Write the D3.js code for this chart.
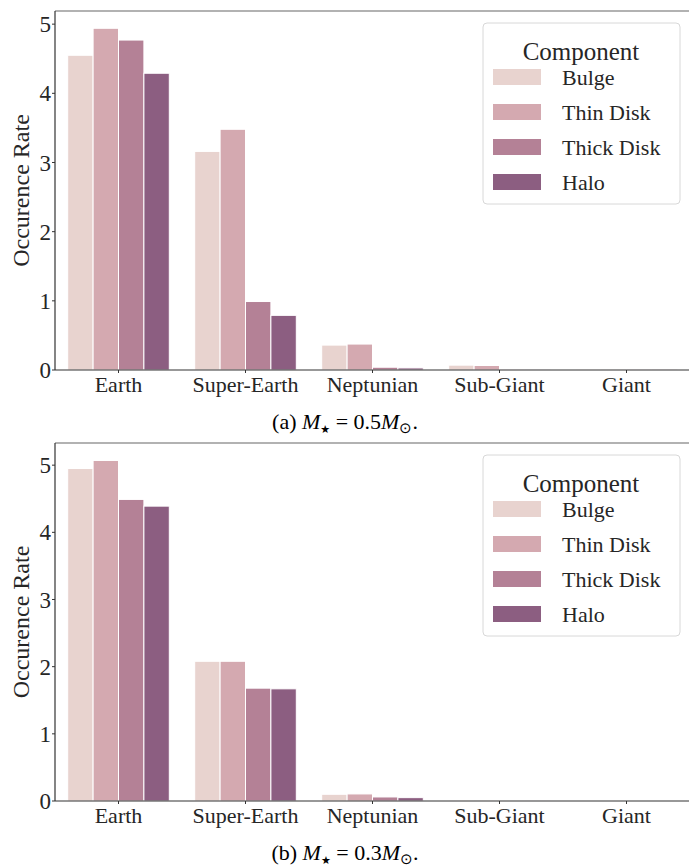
<!DOCTYPE html>
<html>
<head>
<meta charset="utf-8">
<script src="https://cdn.jsdelivr.net/npm/d3@7"></script>
</head>
<body style="margin:0; background:#fff">
<div id="chart"></div>
<script>
const categories = ["Earth", "Super-Earth", "Neptunian", "Sub-Giant", "Giant"];
const components = ["Bulge", "Thin Disk", "Thick Disk", "Halo"];
const colors = ["#e8d3cf", "#d4a9b0", "#b48196", "#8c5e81"];
const yTicks = [0, 1, 2, 3, 4, 5];

// occurrence rate per component, one value per category
const rateA = {
  "Bulge":      [4.55, 3.16, 0.36, 0.07, 0.004],
  "Thin Disk":  [4.94, 3.48, 0.375, 0.065, 0.004],
  "Thick Disk": [4.77, 0.99, 0.04, 0.004, 0.002],
  "Halo":       [4.29, 0.79, 0.03, 0.003, 0.002]
};
const rateB = {
  "Bulge":      [4.95, 2.08, 0.10, 0.005, 0],
  "Thin Disk":  [5.07, 2.08, 0.105, 0.003, 0],
  "Thick Disk": [4.49, 1.68, 0.06, 0.001, 0],
  "Halo":       [4.39, 1.67, 0.05, 0.001, 0]
};

const W = 689, H = 866;
const FONT = "'Liberation Serif'";
const svg = d3.select("#chart").append("svg").attr("width", W).attr("height", H);

function txt(sel, size) {
  return sel.append("text").style("font-family", FONT).style("fill", "#262626")
    .attr("font-size", size);
}

function panel(top, bottom, yMax, rates, tag, mass) {
  const left = 55, right = 690;
  const x = d3.scaleBand().domain(categories).range([left, right]).paddingInner(0.2).paddingOuter(0.1);
  const sub = d3.scaleBand().domain(components).range([0, x.bandwidth()]);
  const y = d3.scaleLinear().domain([0, yMax]).range([bottom, top]);
  const g = svg.append("g");

  components.forEach((c, i) => {
    g.selectAll(null).data(rates[c]).enter().append("rect")
      .attr("x", (d, j) => x(categories[j]) + sub(c))
      .attr("y", d => y(d))
      .attr("width", sub.bandwidth())
      .attr("height", d => y(0) - y(d))
      .attr("fill", colors[i])
      .attr("stroke", "#fff")
      .attr("stroke-width", 1);
  });

  // spines
  g.append("line").attr("x1", left).attr("x2", right).attr("y1", top).attr("y2", top)
    .attr("stroke", "#666").attr("stroke-width", 1.2);
  g.append("line").attr("x1", left).attr("x2", left).attr("y1", top).attr("y2", bottom)
    .attr("stroke", "#333").attr("stroke-width", 1.2);
  g.append("line").attr("x1", left).attr("x2", right).attr("y1", bottom).attr("y2", bottom)
    .attr("stroke", "#333").attr("stroke-width", 1.2);

  // y ticks
  yTicks.forEach(t => {
    g.append("line").attr("x1", left - 3).attr("x2", left).attr("y1", y(t)).attr("y2", y(t))
      .attr("stroke", "#333");
    txt(g, 23).attr("x", left - 4).attr("y", y(t)).attr("dy", "0.35em")
      .attr("text-anchor", "end").text(t);
  });

  // x ticks
  categories.forEach(c => {
    const cx = x(c) + x.bandwidth() / 2;
    g.append("line").attr("x1", cx).attr("x2", cx).attr("y1", bottom).attr("y2", bottom + 3)
      .attr("stroke", "#333");
    txt(g, 22).attr("x", cx).attr("y", bottom + 22).attr("text-anchor", "middle").text(c);
  });

  txt(g, 24)
    .attr("transform", `translate(29,${(top + bottom) / 2}) rotate(-90)`)
    .attr("text-anchor", "middle").text("Occurence Rate");

  // caption
  const cap = txt(g, 22).attr("x", 345).attr("y", bottom + 59)
    .attr("text-anchor", "middle").style("fill", "#000");
  cap.append("tspan").text(`(${tag}) `);
  cap.append("tspan").attr("font-style", "italic").text("M");
  cap.append("tspan").attr("font-size", 11).attr("dy", 4).style("font-family", "'DejaVu Sans'").text("\u2605");
  cap.append("tspan").attr("dy", -4).text(` = ${mass}`);
  cap.append("tspan").attr("font-style", "italic").text("M");
  cap.append("tspan").attr("font-size", 15).attr("dy", 4).text("\u2299");
  cap.append("tspan").attr("dy", -4).text(".");

  // legend
  const lg = g.append("g").attr("transform", `translate(483,${top + 12})`);
  lg.append("rect").attr("width", 197).attr("height", 181).attr("rx", 4)
    .attr("fill", "#fff").attr("fill-opacity", 0.8).attr("stroke", "#d8d8d8");
  txt(lg, 25).attr("x", 98).attr("y", 37).attr("text-anchor", "middle").text("Component");
  components.forEach((c, i) => {
    const ry = 46 + i * 35;
    lg.append("rect").attr("x", 10).attr("y", ry).attr("width", 48).attr("height", 16)
      .attr("fill", colors[i]);
    txt(lg, 22).attr("x", 79).attr("y", ry + 8).attr("dy", "0.35em").text(c);
  });
}

panel(11, 370, 5.19, rateA, "a", "0.5");
panel(443, 801, 5.33, rateB, "b", "0.3");
</script>
</body>
</html>
